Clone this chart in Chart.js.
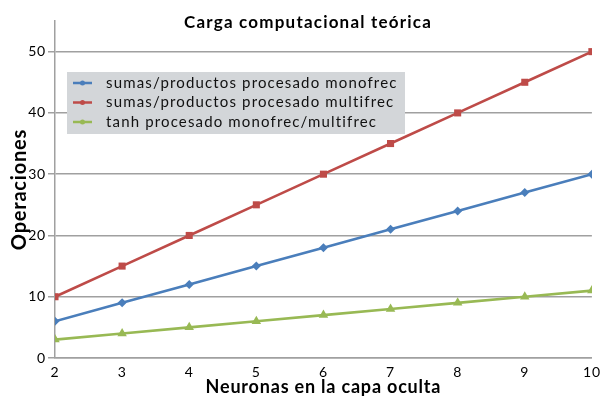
<!DOCTYPE html>
<html>
<head>
<meta charset="utf-8">
<script src="https://cdn.jsdelivr.net/npm/chart.js@4"></script>
<style>
  html, body { margin: 0; padding: 0; background: #fff; }
  #wrap { width: 601px; height: 398px; }
</style>
</head>
<body>
<div id="wrap"><canvas id="chart" width="601" height="398"></canvas></div>
<script>
const neuronas = [2, 3, 4, 5, 6, 7, 8, 9, 10];
const sumasMono = [6, 9, 12, 15, 18, 21, 24, 27, 30];
const sumasMulti = [10, 15, 20, 25, 30, 35, 40, 45, 50];
const tanhProc = [3, 4, 5, 6, 7, 8, 9, 10, 11];
const etiquetas = [
    'sumas/productos procesado monofrec',
    'sumas/productos procesado multifrec',
    'tanh procesado monofrec/multifrec'
];

const FONT = 'Lato, "Open Sans", sans-serif';

// title and the grey legend box are drawn by hand
const extras = {
    id: 'extras',
    beforeDraw(chart) {
        chart.ctx.letterSpacing = '0.8px';
    },
    afterDraw(chart) {
        const ctx = chart.ctx;
        ctx.save();
        ctx.fillStyle = '#000';
        ctx.font = 'bold 17px ' + FONT;
        ctx.letterSpacing = '1.2px';
        ctx.textAlign = 'center';
        ctx.textBaseline = 'middle';
        ctx.fillText('Carga computacional teórica', 308, 23);

        ctx.fillStyle = '#D3D6D9';
        ctx.fillRect(67, 72, 338, 62);
        ctx.font = '15px ' + FONT;
        ctx.letterSpacing = '1.15px';
        ctx.textAlign = 'left';
        chart.data.datasets.forEach((ds, i) => {
            const y = 83 + i * 19.5;
            ctx.strokeStyle = ds.borderColor;
            ctx.lineWidth = 2.5;
            ctx.beginPath();
            ctx.moveTo(73, y);
            ctx.lineTo(92, y);
            ctx.stroke();
            ctx.fillStyle = ds.borderColor;
            ctx.beginPath();
            ctx.arc(82.5, y, 2.5, 0, Math.PI * 2);
            ctx.fill();
            ctx.fillStyle = '#111';
            ctx.fillText(ds.label, 106, y);
        });
        ctx.restore();
    }
};

function serie(label, data, color, style, radius) {
    return {
        label: label,
        data: data,
        borderColor: color,
        backgroundColor: color,
        borderWidth: 2.6,
        pointStyle: style,
        pointRadius: radius,
        pointBorderWidth: 0,
        tension: 0
    };
}

new Chart(document.getElementById('chart'), {
    type: 'line',
    data: {
        labels: neuronas,
        datasets: [
            serie(etiquetas[0], sumasMono, '#4A7EBB', 'rectRot', 4.5),
            serie(etiquetas[1], sumasMulti, '#BE4B48', 'rect', 5),
            serie(etiquetas[2], tanhProc, '#98B954', 'triangle', 5.5)
        ]
    },
    options: {
        responsive: false,
        animation: false,
        layout: { padding: { top: 21, right: 8, left: 0, bottom: 0 } },
        plugins: {
            legend: { display: false },
            title: { display: false },
            tooltip: { enabled: false }
        },
        scales: {
            x: {
                type: 'linear',
                min: 2,
                max: 10,
                ticks: { stepSize: 1, color: '#000', font: { family: FONT, size: 14 }, padding: 1 },
                grid: { display: false, drawOnChartArea: false, drawTicks: true, tickLength: 5, color: '#A0A0A0' },
                border: { color: '#A0A0A0', width: 1.5 },
                title: {
                    display: true,
                    text: 'Neuronas en la capa oculta',
                    color: '#000',
                    font: { family: FONT, size: 18, weight: 'bold' },
                    padding: { top: 0, bottom: 0 }
                },
                afterFit(scale) { scale.height = 40; }
            },
            y: {
                min: 0,
                max: 55,
                ticks: { stepSize: 10, color: '#000', font: { family: FONT, size: 14 }, padding: 2 },
                afterBuildTicks(scale) {
                    scale.ticks = scale.ticks.filter(t => t.value % 10 === 0);
                },
                grid: { color: '#A0A0A0', lineWidth: 1.5, tickLength: 7 },
                border: { color: '#A0A0A0', width: 1.5 },
                title: {
                    display: true,
                    text: 'Operaciones',
                    color: '#000',
                    font: { family: FONT, size: 20, weight: 'bold' },
                    padding: { top: 8, bottom: 0 }
                },
                afterFit(scale) { scale.width = 55; }
            }
        }
    },
    plugins: [extras]
});
</script>
</body>
</html>
